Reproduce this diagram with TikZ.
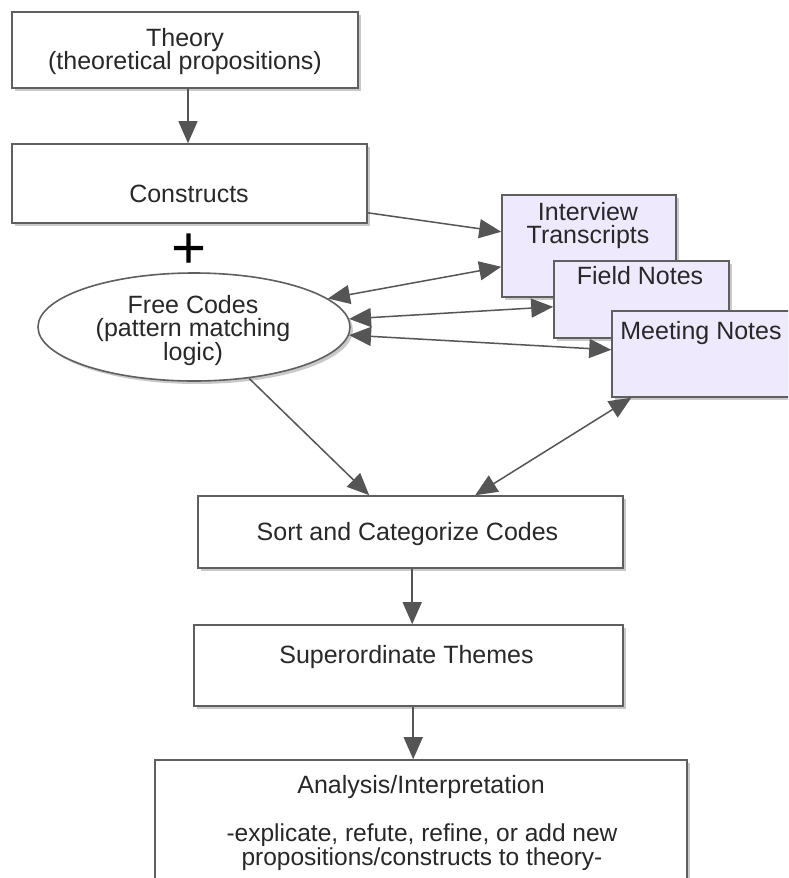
\documentclass[tikz,border=0pt]{standalone}
\usepackage{fontspec}
\setmainfont{Liberation Sans}
\usetikzlibrary{shapes.geometric,arrows.meta,shadows}
\definecolor{boxline}{RGB}{95,95,95}
\definecolor{arrowcol}{RGB}{85,85,85}
\definecolor{lav}{RGB}{238,233,252}
\definecolor{txt}{RGB}{40,40,40}
\begin{document}
\begin{tikzpicture}[x=1pt,y=-1pt,
  every node/.style={text=txt,font=\fontsize{25}{23.5}\selectfont},
  shadowed/.style={drop shadow={shadow xshift=3pt,shadow yshift=-3pt,opacity=0.35,fill=black!60}},
  boxnode/.style={draw=boxline,line width=1.6pt,fill=white,rectangle,inner sep=0pt,shadowed},
  srcbox/.style={boxnode,fill=lav},
  lbl/.style={align=center,inner sep=0pt,anchor=north},
  arr/.style={draw=arrowcol,line width=1.5pt,-{Triangle[length=22pt,width=19pt]}},
  darr/.style={draw=arrowcol,line width=1.5pt,{Triangle[length=22pt,width=19pt]}-{Triangle[length=22pt,width=19pt]}}
]
\useasboundingbox (0,0) rectangle (788,878);
\clip (0,0) rectangle (788,878);
\fill[white] (0,0) rectangle (788,878);

% Theory
\node[boxnode,minimum width=346pt,minimum height=76pt] (theory) at (185,50) {};
\node[lbl] (theoryT) at (185,28) {Theory\\(theoretical propositions)};
% Constructs
\node[boxnode,minimum width=355pt,minimum height=79pt] (cons) at (189.5,183.5) {};
\node[lbl] (consT) at (189,185) {Constructs};
% plus
\node[font=\fontsize{60}{60}\selectfont,text=black,inner sep=0pt] (plus) at (189,251) {+};
% Free codes
\node[draw=boxline,line width=1.6pt,fill=white,ellipse,minimum width=312pt,minimum height=108pt,inner sep=0pt,shadowed] (fc) at (194,327) {};
\node[lbl,font=\fontsize{25}{23}\selectfont] (fcT) at (193,295) {Free Codes\\(pattern matching\\logic)};
% sources
\node[srcbox,minimum width=174pt,minimum height=102pt] (intv) at (589,246) {};
\node[lbl,font=\fontsize{25}{23}\selectfont] (intvT) at (588,202) {Interview\\Transcripts};
\node[srcbox,minimum width=175pt,minimum height=77pt] (field) at (641.5,299.5) {};
\node[lbl] (fieldT) at (640,266) {Field Notes};
\node[srcbox,minimum width=190pt,minimum height=86pt] (meet) at (707,354) {};
\node[lbl] (meetT) at (701,321) {Meeting Notes};
% Sort
\node[boxnode,minimum width=425pt,minimum height=72pt] (sort) at (410.5,532) {};
\node[lbl] (sortT) at (407.5,522) {Sort and Categorize Codes};
% Superordinate
\node[boxnode,minimum width=429pt,minimum height=81pt] (sup) at (408.5,665.5) {};
\node[lbl] (supT) at (406.5,645) {Superordinate Themes};
% Analysis
\node[boxnode,minimum width=532pt,minimum height=150pt] (ana) at (421,835) {};
\node[lbl] (anaT) at (421,775) {Analysis/Interpretation};
\node[lbl,font=\fontsize{24.5}{20.5}\selectfont] (anaT2) at (422,824) {-explicate, refute, refine, or add new\\propositions/constructs to theory-};

% connectors
\draw[arr] ([xshift=3pt]theory.south) -- ([xshift=3pt]theory.south |- cons.north);
\draw[arr] ([yshift=11pt]cons.south east) -- ([yshift=66pt]intv.south west);
\draw[darr] (fc.12) -- ([yshift=31pt]intv.south west);
\draw[darr] (fc.3) -- ([yshift=32pt]field.south west);
\draw[darr] (fc.-3) -- ([yshift=48pt]meet.south west);
\draw[arr] (fc.-43) -- ([xshift=172pt]sort.north west);
\draw[darr] ([xshift=20pt]meet.south west) -- ([xshift=278pt]sort.north west);
\draw[arr] ([xshift=215pt]sort.south west) -- ([xshift=219pt]sup.north west);
\draw[arr] ([xshift=220pt]sup.south west) -- ([xshift=259pt]ana.north west);
\end{tikzpicture}
\end{document}
